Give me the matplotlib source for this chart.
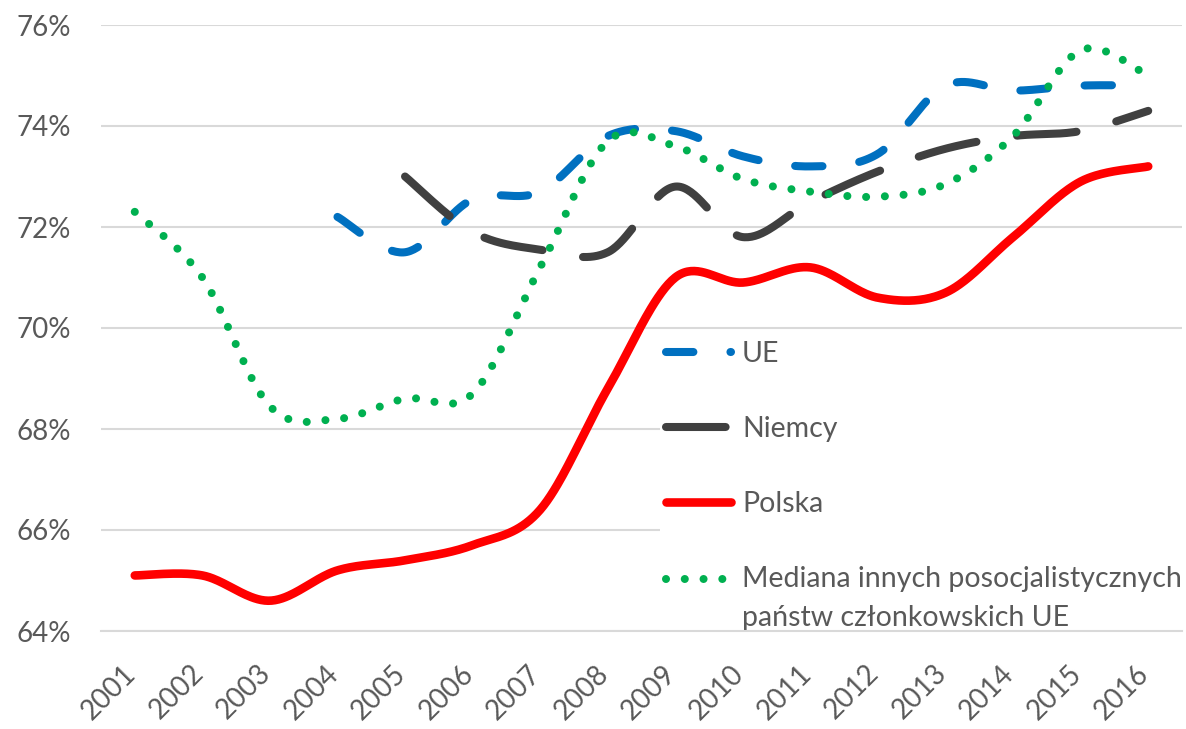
import numpy as np
import matplotlib
matplotlib.use("Agg")
import matplotlib.pyplot as plt
from matplotlib.ticker import FuncFormatter
from matplotlib.transforms import ScaledTranslation
from matplotlib.legend_handler import HandlerLine2D

plt.rcParams['font.family'] = ['Lato', 'DejaVu Sans']

# data (% of population aged 20-64 employed)
years = list(range(2001, 2017))
ue_years = list(range(2004, 2017))
ue = [72.2, 71.5, 72.55, 72.7, 73.8, 73.9, 73.4, 73.2, 73.45, 74.8, 74.7, 74.8, 74.8]
niemcy_years = list(range(2005, 2017))
niemcy = [73.0, 71.9, 71.55, 71.5, 72.8, 71.8, 72.5, 73.1, 73.55, 73.8, 73.9, 74.3]
polska = [65.1, 65.1, 64.6, 65.2, 65.4, 65.7, 66.4, 68.8, 71.0, 70.9, 71.2, 70.6, 70.7, 71.8, 72.9, 73.2]
mediana = [72.3, 71.0, 68.45, 68.2, 68.6, 68.7, 71.2, 73.7, 73.6, 72.95, 72.7, 72.6, 72.85, 73.8, 75.5, 75.0]

labels = ["UE", "Niemcy", "Polska",
          "Mediana innych posocjalistycznych\npaństw członkowskich UE"]
colors = ["#0070C0", "#404040", "#FF0000", "#00B050"]
text_color = "#595959"
grid_color = "#D9D9D9"


def smooth(x, y, n=40):
    # Excel-style smoothed line: cubic bezier through each point
    x = np.asarray(x, float)
    y = np.asarray(y, float)
    px = np.concatenate([[x[0]], x, [x[-1]]])
    py = np.concatenate([[y[0]], y, [y[-1]]])
    t = np.linspace(0, 1, n)[:, None]
    xs, ys = [], []
    for i in range(1, len(px) - 2):
        p0 = np.array([px[i], py[i]])
        p3 = np.array([px[i + 1], py[i + 1]])
        c1 = p0 + (p3 - np.array([px[i - 1], py[i - 1]])) / 6
        c2 = p3 - (np.array([px[i + 2], py[i + 2]]) - p0) / 6
        seg = ((1 - t) ** 3) * p0 + 3 * ((1 - t) ** 2) * t * c1 + 3 * (1 - t) * t ** 2 * c2 + t ** 3 * p3
        xs.append(seg[:, 0])
        ys.append(seg[:, 1])
    return np.concatenate(xs), np.concatenate(ys)


class RaisedHandler(HandlerLine2D):
    # put the legend line next to the first line of a two-line label
    def __init__(self, dy, **kw):
        super().__init__(**kw)
        self.dy = dy

    def create_artists(self, legend, orig_handle, xdescent, ydescent, width, height, fontsize, trans):
        return super().create_artists(legend, orig_handle, xdescent, ydescent - 2 * self.dy,
                                      width, height, fontsize, trans)


W, H = 1186, 729
fig = plt.figure(figsize=(W / 100, H / 100), dpi=100)
ax = fig.add_axes([101 / W, 1 - 631 / H, (1182 - 101) / W, (631 - 25) / H])

lw = 5.8
x, y = smooth(ue_years, ue)
l_ue, = ax.plot(x, y, color=colors[0], lw=lw, dashes=(3.4, 4.6), dash_capstyle='round',
                solid_capstyle='round', label=labels[0])
x, y = smooth(niemcy_years, niemcy)
l_de, = ax.plot(x, y, color=colors[1], lw=lw, dashes=(7.4, 5.1), dash_capstyle='round',
                solid_capstyle='round', label=labels[1])
x, y = smooth(years, polska)
l_pl, = ax.plot(x, y, color=colors[2], lw=6.2, solid_capstyle='round', label=labels[2])
x, y = smooth(years, mediana)
l_md, = ax.plot(x, y, color=colors[3], lw=lw, dashes=(0.001, 2.33), dash_capstyle='round',
                label=labels[3])

ax.set_xlim(2000.5, 2016.5)
ax.set_ylim(64, 76)
ax.set_xticks(years)
ax.set_yticks(np.arange(64, 77, 2))
ax.yaxis.set_major_formatter(FuncFormatter(lambda v, p: "%d%%" % v))
ax.grid(axis='y', color=grid_color, lw=1.5)
ax.set_axisbelow(True)
for s in ['top', 'right', 'left']:
    ax.spines[s].set_visible(False)
ax.spines['bottom'].set_color(grid_color)
ax.spines['bottom'].set_linewidth(1.5)
ax.spines['bottom'].set_zorder(6)

fs = 20
ax.tick_params(axis='both', length=0, labelsize=fs, labelcolor=text_color)
ax.tick_params(axis='y', pad=21.5)
ax.tick_params(axis='x', pad=21)
shift = ScaledTranslation(6 / 100, 0, fig.dpi_scale_trans)
for lab in ax.get_xticklabels():
    lab.set_rotation(45)
    lab.set_ha('right')
    lab.set_va('top')
    lab.set_transform(lab.get_transform() + shift)

leg = ax.legend(handles=[l_ue, l_de, l_pl, l_md], loc='upper left',
                bbox_to_anchor=(660 / W, 1 - 335 / H), bbox_transform=fig.transFigure,
                frameon=True, fancybox=False, framealpha=1, facecolor='white', edgecolor='none',
                fontsize=20.5, labelcolor=text_color, handlelength=2.3, handletextpad=0.38,
                labelspacing=1.72, borderpad=0.2, borderaxespad=0,
                handler_map={l_md: RaisedHandler(14.4)})
for t in leg.get_texts():
    t.set_linespacing(1.66)

fig.savefig("out.png", dpi=100)
